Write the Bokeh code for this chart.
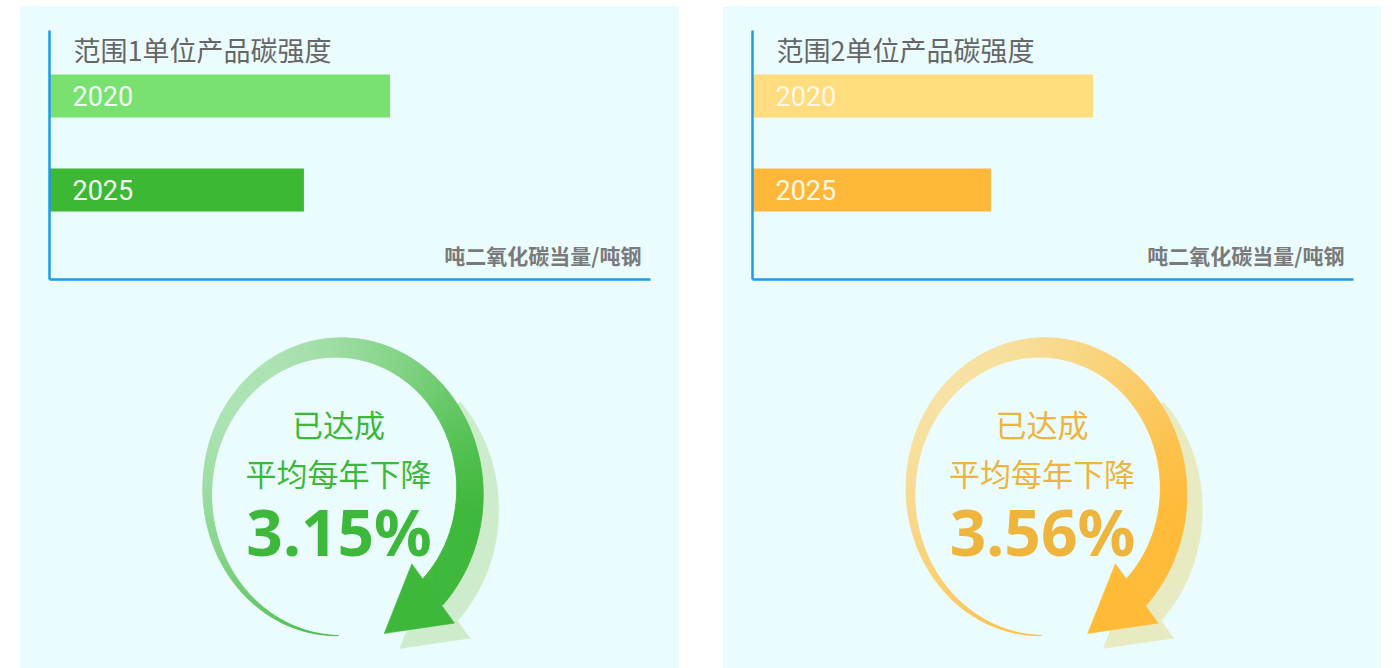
import numpy as np
from bokeh.plotting import figure
from bokeh.models import Range1d, Spacer, ColumnDataSource, FixedTicker
from bokeh.layouts import row, column
from bokeh.core.properties import value
from bokeh.embed import file_html
from bokeh.resources import INLINE

# ---------------- data ----------------
years = ["2020", "2025"]
scope1_intensity = [1.70, 1.27]
scope2_intensity = [1.70, 1.19]
chart_titles = ["范围1单位产品碳强度", "范围2单位产品碳强度"]
unit_text = "吨二氧化碳当量/吨钢"
headline_lines = ["已达成", "平均每年下降"]
annual_decline = ["3.15%", "3.56%"]

# ---------------- style ----------------
BG = "#EAFCFD"
AXIS_BLUE = "#1E9BE9"
CJK = "Noto Sans CJK SC"
X_MAX = 3.0

themes = [
    dict(bar=["#78E170", "#3DB835"], bar_text="#F2FFF0",
         light=(180, 230, 188), dark=(62, 184, 58),
         shadow="#CDECCB", text="#3DB83A"),
    dict(bar=["#FFDC7E", "#FFB73A"], bar_text="#FFF8E6",
         light=(246, 228, 170), dark=(255, 186, 56),
         shadow="#E8EAC2", text="#EEB43C"),
]

# page geometry (pixels)
PANEL_TOP, SPLIT, PAGE_BOTTOM = 6, 289, 668
FRAME_TOP, FRAME_BOTTOM, ROW_PX = 30, 279, 94.0
Y_LO = -0.952
Y_HI = Y_LO + (FRAME_BOTTOM - FRAME_TOP) / ROW_PX


def py(page_y):
    return Y_LO + (FRAME_BOTTOM - page_y) / ROW_PX


def bar_chart(width, title, values, theme):
    p = figure(width=width, height=SPLIT - PANEL_TOP, x_range=Range1d(0, X_MAX),
               y_range=Range1d(Y_LO, Y_HI), output_backend="svg",
               toolbar_location=None, min_border_left=29,
               min_border_right=width - 29 - 601,
               min_border_top=FRAME_TOP - PANEL_TOP,
               min_border_bottom=SPLIT - FRAME_BOTTOM)
    p.background_fill_color = BG
    p.border_fill_color = BG
    p.outline_line_color = None
    p.xgrid.visible = False
    p.ygrid.visible = False
    for ax in (p.xaxis[0], p.yaxis[0]):
        ax.ticker = FixedTicker(ticks=[])
        ax.axis_line_color = AXIS_BLUE
        ax.axis_line_width = 2.5
        ax.major_tick_line_color = None
        ax.minor_tick_line_color = None
        ax.major_tick_out = 0
        ax.major_tick_in = 0
        ax.minor_tick_out = 0
        ax.minor_tick_in = 0
        ax.major_label_standoff = 0

    ypos = list(range(len(years)))[::-1]
    src = ColumnDataSource(dict(y=ypos, v=values, year=years, color=theme["bar"]))
    p.hbar(y="y", left=0, right="v", height=43 / ROW_PX, fill_color="color",
           line_color=None, source=src)
    p.text(x=0, y="y", text="year", x_offset=23, text_font=value("Roboto"),
           text_font_size="27px", text_color=theme["bar_text"],
           text_baseline="middle", source=src)
    p.text(x=[0], y=[py(48.5)], text=[title], x_offset=24,
           text_font=value(CJK), text_font_size="27px", text_color="#666666",
           text_baseline="middle")
    p.text(x=[X_MAX], y=[py(254)], text=[unit_text], x_offset=-9,
           text_font=value(CJK), text_font_size="21px", text_font_style="bold",
           text_color="#7A7A7A", text_align="right", text_baseline="middle")
    return p


def lerp_color(a, b, f):
    c = [int(round(a[i] + (b[i] - a[i]) * f)) for i in range(3)]
    return "#%02x%02x%02x" % tuple(c)


def polar(cx, cy, r, deg):
    a = np.deg2rad(deg)
    return cx + r * np.cos(a), cy + r * np.sin(a)


def arrow_panel(width, left, theme, pct):
    top, bottom = SPLIT, PAGE_BOTTOM
    p = figure(width=width, height=bottom - top,
               x_range=Range1d(left, left + width), y_range=Range1d(bottom, top),
               output_backend="svg", toolbar_location=None,
               x_axis_location=None, y_axis_location=None,
               min_border=0, min_border_left=0, min_border_right=0,
               min_border_top=0, min_border_bottom=0)
    p.background_fill_color = BG
    p.border_fill_color = BG
    p.outline_line_color = None
    p.xgrid.visible = False
    p.ygrid.visible = False

    cx, cy, R = left + 317, 491.0, 144.0
    phi_end = 405.0

    def thick(ph):
        return 9.7 * (ph - 90.0) / 90.0

    def band(ph0, ph1):
        xo0, yo0 = polar(cx, cy, R + thick(ph0) / 2, ph0)
        xo1, yo1 = polar(cx, cy, R + thick(ph1) / 2, ph1)
        xi1, yi1 = polar(cx, cy, R - thick(ph1) / 2, ph1)
        xi0, yi0 = polar(cx, cy, R - thick(ph0) / 2, ph0)
        return [xo0, xo1, xi1, xi0], [yo0, yo1, yi1, yi0]

    head_polar = [(108.0, 402.0), (183.0, 406.0), (150.5, 430.6)]

    def head(dx=0.0, dy=0.0):
        pts = [polar(cx, cy, r, d) for r, d in head_polar]
        return [q[0] + dx for q in pts], [q[1] + dy for q in pts]

    # shadow
    sdx, sdy = 17.0, 15.0
    s_ph = np.arange(318.0, phi_end + 0.01, 1.0)
    xo, yo = polar(cx, cy, R + thick(s_ph) / 2, s_ph)
    xi, yi = polar(cx, cy, R - thick(s_ph) / 2, s_ph)
    sx = list(xo + sdx) + list(xi[::-1] + sdx)
    sy = list(yo + sdy) + list(yi[::-1] + sdy)
    hx, hy = head(sdx, sdy)
    p.patches(xs=[sx, hx], ys=[sy, hy], fill_color=theme["shadow"],
              line_color=theme["shadow"], line_width=0.5)

    # gradient arc
    x0g, y0g, L = cx - 149, 338.0, 620.0
    xs, ys, cols = [], [], []
    phs = np.arange(90.0, phi_end + 0.01, 1.0)
    for a0, a1 in zip(phs[:-1], phs[1:]):
        bx, by = band(a0, a1)
        mx, my = polar(cx, cy, R, (a0 + a1) / 2)
        u = ((mx - x0g) + (my - y0g)) / L
        f = float(np.clip((u - 0.12) / (0.75 - 0.12), 0, 1))
        xs.append(bx)
        ys.append(by)
        cols.append(lerp_color(theme["light"], theme["dark"], f))
    p.patches(xs=xs, ys=ys, fill_color=cols, line_color=cols, line_width=0.8)
    hx, hy = head()
    dark = lerp_color(theme["dark"], theme["dark"], 0)
    p.patch(hx, hy, fill_color=dark, line_color=dark, line_width=0.5)

    # texts
    p.text(x=[cx], y=[423], text=[headline_lines[0]], text_font=value(CJK),
           text_font_size="31px", text_color=theme["text"], text_align="center",
           text_baseline="middle")
    p.text(x=[cx], y=[471.5], text=[headline_lines[1]], text_font=value(CJK),
           text_font_size="31px", text_color=theme["text"], text_align="center",
           text_baseline="middle")
    p.text(x=[cx + 0.5], y=[531], text=[pct], text_font=value("Noto Sans"),
           text_font_size="64px", text_font_style="bold",
           text_color=theme["text"], text_align="center", text_baseline="middle")
    return p


def panel(width, left, idx, values):
    return column(bar_chart(width, chart_titles[idx], values, themes[idx]),
                  arrow_panel(width, left, themes[idx], annual_decline[idx]),
                  styles={"background-color": BG})


full_h = PAGE_BOTTOM - PANEL_TOP
left_col = column(Spacer(width=659, height=PANEL_TOP), panel(659, 20, 0, scope1_intensity))
right_col = column(Spacer(width=658, height=PANEL_TOP), panel(658, 723, 1, scope2_intensity))
layout = row(Spacer(width=20, height=PAGE_BOTTOM), left_col,
             Spacer(width=44, height=PAGE_BOTTOM), right_col)

open("out.html", "w").write(file_html(layout, INLINE))
